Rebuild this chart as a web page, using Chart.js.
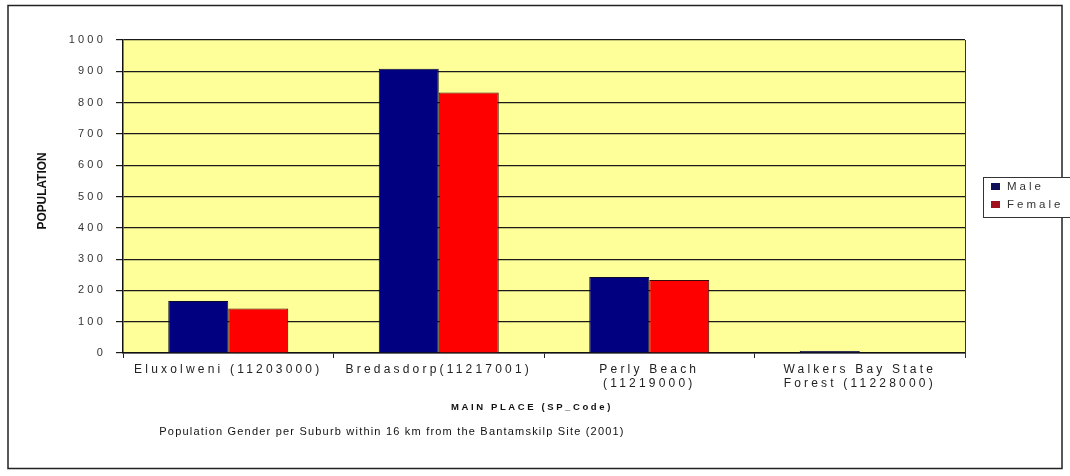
<!DOCTYPE html>
<html>
<head>
<meta charset="utf-8">
<script src="https://cdn.jsdelivr.net/npm/chart.js@4.4.1/dist/chart.umd.min.js"></script>
<style>
  html, body { margin: 0; padding: 0; background: #ffffff; }
  #wrap { position: relative; width: 1070px; height: 476px; }
</style>
</head>
<body>
<div id="wrap"><canvas id="c" width="1070" height="476"></canvas></div>
<script>
// Suburbs (main places) with their SP codes
const categories = [
  'Eluxolweni (11203000)',
  'Bredasdorp(11217001)',
  ['Perly Beach', '(11219000)'],
  ['Walkers Bay State', 'Forest (11228000)']
];
const male   = [166, 908, 243, 6];
const female = [142, 832, 233, 0];
const yTicks = [0, 100, 200, 300, 400, 500, 600, 700, 800, 900, 1000];

const chartTitle = 'Population Gender per Suburb within 16 km from the Bantamskilp Site (2001)';
const xTitle = 'MAIN PLACE (SP_Code)';
const yTitle = 'POPULATION';

const FONT = '"Liberation Sans", Arial, sans-serif';
const TICK_SPACING = '3.2px';

// Yellow plot background, right border, frame, titles and legend
const decor = {
  id: 'decor',
  beforeUpdate(chart) { chart.ctx.letterSpacing = TICK_SPACING; },
  beforeDraw(chart) {
    const { ctx, chartArea: a } = chart;
    ctx.save();
    ctx.fillStyle = '#ffffff';
    ctx.fillRect(0, 0, chart.width, chart.height);
    ctx.fillStyle = '#ffff99';
    ctx.fillRect(a.left, a.top, a.right - a.left, a.bottom - a.top);
    ctx.restore();
    ctx.letterSpacing = TICK_SPACING;
  },
  afterDraw(chart) {
    const { ctx, chartArea: a } = chart;
    ctx.save();
    // plot right edge
    ctx.strokeStyle = '#333333';
    ctx.lineWidth = 1;
    ctx.beginPath();
    ctx.moveTo(Math.round(a.right) + 0.5, a.top);
    ctx.lineTo(Math.round(a.right) + 0.5, a.bottom + 5);
    ctx.stroke();

    // outer frame
    ctx.strokeStyle = '#222222';
    ctx.lineWidth = 1.5;
    ctx.strokeRect(8, 5.5, 1054, 463);

    // y axis title, narrowed bold caps
    ctx.letterSpacing = '0px';
    ctx.fillStyle = '#111111';
    ctx.font = 'bold 13px ' + FONT;
    ctx.textAlign = 'center';
    ctx.textBaseline = 'middle';
    ctx.save();
    ctx.translate(42, 191);
    ctx.rotate(-Math.PI / 2);
    const w = ctx.measureText(yTitle).width;
    ctx.scale(77 / w, 1);
    ctx.fillText(yTitle, 0, 0);
    ctx.restore();

    // x axis title
    ctx.letterSpacing = '2.6px';
    ctx.font = 'bold 9.5px ' + FONT;
    ctx.fillStyle = '#111111';
    ctx.fillText(xTitle, 532, 407);

    // chart title under the axis
    ctx.letterSpacing = '1.2px';
    ctx.font = '11px ' + FONT;
    ctx.fillStyle = '#111111';
    ctx.fillText(chartTitle, 392, 432);

    // legend
    const lx = 983, ly = 177;
    ctx.fillStyle = '#ffffff';
    ctx.fillRect(lx, ly, 100, 40);
    ctx.strokeStyle = '#333333';
    ctx.lineWidth = 1;
    ctx.strokeRect(lx + 0.5, ly + 0.5, 100, 40);
    ctx.letterSpacing = '3px';
    ctx.font = '11.5px ' + FONT;
    ctx.textAlign = 'left';
    chart.data.datasets.forEach((ds, i) => {
      const y = ly + 10 + i * 18;
      ctx.fillStyle = ds.legendColor;
      ctx.fillRect(lx + 8, y - 4, 9, 7);
      ctx.fillStyle = '#333333';
      ctx.fillText(ds.label, lx + 24, y);
    });
    ctx.restore();
  }
};

new Chart(document.getElementById('c'), {
  type: 'bar',
  data: {
    labels: categories,
    datasets: [
      { label: 'Male', data: male, backgroundColor: '#000080', legendColor: '#10105a',
        borderColor: '#0a0a30', borderWidth: 1 },
      { label: 'Female', data: female, backgroundColor: '#ff0000', legendColor: '#a0101c',
        borderColor: '#3a0a0a', borderWidth: 1 }
    ]
  },
  options: {
    responsive: false,
    animation: false,
    devicePixelRatio: 1,
    layout: { padding: { top: 40, right: 105, left: 0, bottom: 0 } },
    datasets: { bar: { categoryPercentage: 0.57, barPercentage: 1.0 } },
    plugins: { legend: { display: false }, tooltip: { enabled: false }, title: { display: false } },
    scales: {
      x: {
        afterFit(s) { s.height = 123; },
        grid: { drawOnChartArea: false, drawTicks: true, tickLength: 5, color: '#222222', offset: true },
        border: { display: true, color: '#111111', width: 1.5 },
        ticks: { color: '#222222', font: { family: FONT, size: 12, lineHeight: 1.2 }, padding: 4, maxRotation: 0, autoSkip: false }
      },
      y: {
        min: 0, max: 1000,
        afterFit(s) { s.width = 123; },
        afterBuildTicks(s) { s.ticks = yTicks.map(v => ({ value: v })); },
        grid: { color: '#1a1a1a', lineWidth: 1.2, tickLength: 7 },
        border: { display: true, color: '#111111', width: 1.5 },
        ticks: { color: '#333333', font: { family: FONT, size: 11 }, padding: 10,
                 callback: v => String(v) }
      }
    }
  },
  plugins: [decor]
});
</script>
</body>
</html>
